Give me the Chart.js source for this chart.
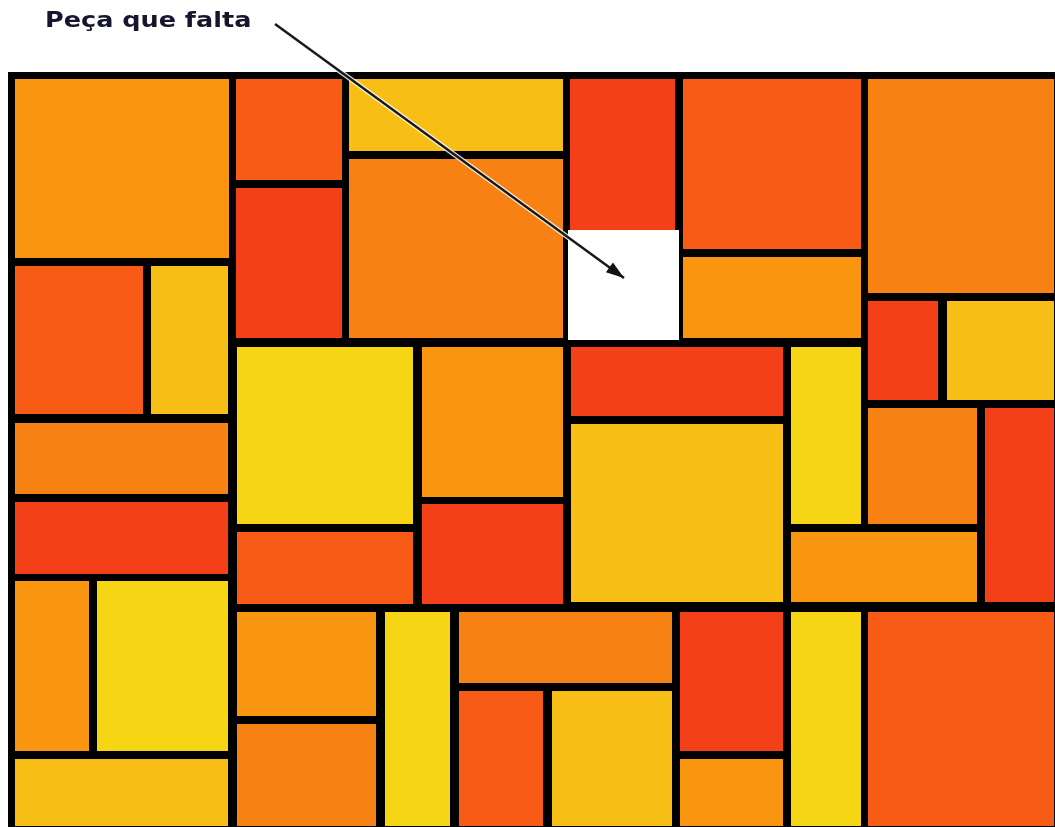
<!DOCTYPE html>
<html>
<head>
<meta charset="utf-8">
<script src="https://cdn.jsdelivr.net/npm/chart.js@4"></script>
<style>
  body { margin: 0; background: #fff; }
  #wrap { position: relative; width: 1055px; height: 827px; }
  #label {
    position: absolute; left: 45px; top: 9px;
    font: bold 22px "DejaVu Sans", Verdana, sans-serif; line-height: 22px;
    color: #15152e; white-space: nowrap;
    transform: scaleX(1.16); transform-origin: left top;
  }
</style>
</head>
<body>
<div id="wrap">
  <canvas id="myChart" width="1055" height="827"></canvas>
  <div id="label">Peça que falta</div>
</div>
<script>
// piece edges (inner coloured area), in picture units
const pieceLeft   = [15, 236, 236, 349, 349, 570, 683, 683, 868, 868, 947, 868, 985, 571, 791, 571, 791, 15, 151, 15, 15, 237, 237, 422, 422, 15, 97, 15, 237, 237, 385, 459, 459, 552, 680, 680, 791, 868];
const pieceRight  = [229, 342, 342, 563, 563, 675, 861, 861, 1054, 938, 1054, 977, 1054, 783, 861, 783, 977, 143, 228, 228, 228, 413, 413, 563, 563, 89, 228, 228, 376, 376, 450, 672, 543, 672, 783, 783, 861, 1054];
const pieceTop    = [79, 79, 188, 79, 159, 79, 79, 257, 79, 301, 301, 408, 408, 347, 347, 424, 532, 266, 266, 423, 502, 347, 532, 347, 504, 581, 581, 759, 612, 724, 612, 612, 691, 691, 612, 759, 612, 612];
const pieceBottom = [258, 180, 338, 151, 338, 230, 249, 338, 293, 400, 400, 524, 602, 416, 524, 602, 602, 414, 414, 494, 574, 524, 604, 497, 604, 751, 751, 826, 716, 826, 826, 683, 826, 826, 751, 826, 826, 826];
// tone of each piece: 0 light orange, 1 orange, 2 orange-red, 3 red, 4 gold, 5 yellow
const pieceTone   = [0, 2, 3, 4, 1, 3, 2, 0, 1, 3, 4, 1, 3, 3, 5, 4, 0, 2, 4, 1, 3, 5, 2, 0, 3, 0, 5, 4, 0, 1, 5, 1, 2, 4, 3, 0, 5, 2];

// the missing piece
const holeX = [568, 679];
const holeY = [230, 340];
// board frame
const frameX = [8, 1062];
const frameY = [72, 834];
// pointer arrow: tail and tip
const arrowX = [275, 624];
const arrowY = [24, 278];

const palette = ['#f9950f', '#f88114', '#f75b16', '#f34019', '#f7bf15', '#f6d614'];

function box(x0, x1, y0, y1) {
    return [{x: x0, y: y0}, {x: x1, y: y0}, {x: x1, y: y1}, {x: x0, y: y1}, {x: x0, y: y0}];
}

function shape(data, color, order) {
    return {
        data: data,
        fill: 'shape',
        backgroundColor: color,
        borderColor: 'transparent',
        borderWidth: 1,
        pointRadius: 0,
        tension: 0,
        order: order
    };
}

let datasets = [];
datasets.push(shape(box(frameX[0], frameX[1], frameY[0], frameY[1]), '#000', 100));
pieceLeft.forEach((x0, i) => {
    datasets.push(shape(box(x0, pieceRight[i], pieceTop[i], pieceBottom[i]), palette[pieceTone[i]], 50));
});
datasets.push(shape(box(holeX[0], holeX[1], holeY[0], holeY[1]), '#fff', 20));

// arrow shaft with a white halo
const shaft = [{x: arrowX[0], y: arrowY[0]}, {x: arrowX[1], y: arrowY[1]}];
datasets.push({data: shaft, borderColor: 'rgba(255,255,255,0.85)', borderWidth: 5, pointRadius: 0, fill: false, order: 5});
datasets.push({data: shaft, borderColor: '#1a1a1a', borderWidth: 2.5, pointRadius: 0, fill: false, order: 4});

// arrow head
const dx = arrowX[1] - arrowX[0], dy = arrowY[1] - arrowY[0];
const len = Math.sqrt(dx * dx + dy * dy);
const ux = dx / len, uy = dy / len;
const bx = arrowX[1] - ux * 18, by = arrowY[1] - uy * 18;
const head = [
    {x: arrowX[1], y: arrowY[1]},
    {x: bx - uy * 6, y: by + ux * 6},
    {x: bx + uy * 6, y: by - ux * 6},
    {x: arrowX[1], y: arrowY[1]}
];
datasets.push(shape(head, '#111', 1));

const ctx = document.getElementById('myChart').getContext('2d');
const myChart = new Chart(ctx, {
    type: 'line',
    data: { datasets: datasets },
    options: {
        responsive: false,
        animation: false,
        layout: { padding: 0 },
        plugins: {
            legend: { display: false },
            tooltip: { enabled: false }
        },
        scales: {
            x: { type: 'linear', min: 0, max: 1055, display: false },
            y: { type: 'linear', min: 0, max: 827, reverse: true, display: false }
        }
    }
});
</script>
</body>
</html>
